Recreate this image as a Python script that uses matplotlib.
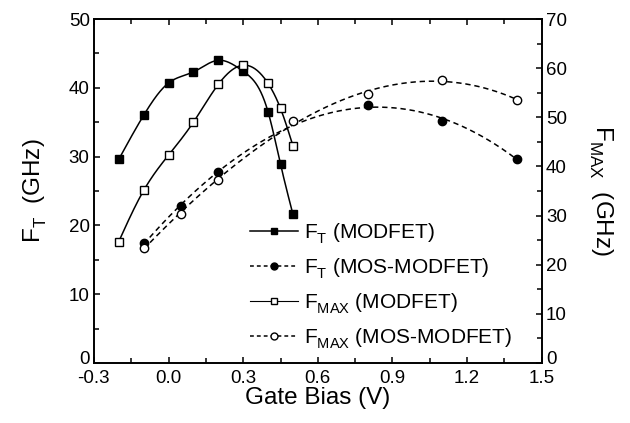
import numpy as np
import matplotlib
matplotlib.use("Agg")
import matplotlib.pyplot as plt
from matplotlib.lines import Line2D
from matplotlib.ticker import MultipleLocator, FixedLocator, FuncFormatter
from matplotlib.transforms import ScaledTranslation
import matplotlib._mathtext as _mt

plt.rcParams['font.family'] = ['Liberation Sans', 'DejaVu Sans']
plt.rcParams['mathtext.fontset'] = 'custom'
plt.rcParams['mathtext.rm'] = 'Liberation Sans'
plt.rcParams['mathtext.it'] = 'Liberation Sans'
# deeper subscripts, like the reference
_mt.FontConstantsBase.sub1 = 0.5
_mt.FontConstantsBase.sub2 = 0.6

# Data
vg_mod = [-0.2, -0.1, 0.0, 0.1, 0.2, 0.3, 0.4, 0.45, 0.5]
ft_mod = [29.6, 36.0, 40.7, 42.3, 44.0, 42.4, 36.5, 28.9, 21.6]
fmax_mod = [24.7, 35.1, 42.3, 49.0, 56.7, 60.6, 56.9, 51.8, 44.2]

vg_mos_ft = [-0.1, 0.05, 0.2, 0.8, 1.1, 1.4]
ft_mos = [17.4, 22.8, 27.8, 37.5, 35.2, 29.7]
vg_mos_fmax = [-0.1, 0.05, 0.2, 0.5, 0.8, 1.1, 1.4]
fmax_mos = [23.4, 30.4, 37.2, 49.3, 54.7, 57.5, 53.6]

x_ticks = [-0.3, 0.0, 0.3, 0.6, 0.9, 1.2, 1.5]
ft_ticks = [0, 10, 20, 30, 40, 50]
fmax_ticks = [0, 10, 20, 30, 40, 50, 60, 70]

labels = ["F$_{\\mathrm{T}}$ (MODFET)", "F$_{\\mathrm{T}}$ (MOS-MODFET)",
          "F$_{\\mathrm{MAX}}$ (MODFET)", "F$_{\\mathrm{MAX}}$ (MOS-MODFET)"]


def natural_spline(x, y, xs):
    x = np.asarray(x, float); y = np.asarray(y, float)
    n = len(x); h = np.diff(x)
    A = np.zeros((n, n)); b = np.zeros(n)
    A[0, 0] = 1; A[-1, -1] = 1
    for i in range(1, n - 1):
        A[i, i - 1] = h[i - 1]; A[i, i] = 2 * (h[i - 1] + h[i]); A[i, i + 1] = h[i]
        b[i] = 6 * ((y[i + 1] - y[i]) / h[i] - (y[i] - y[i - 1]) / h[i - 1])
    M = np.linalg.solve(A, b)
    out = np.empty_like(xs)
    for k, xv in enumerate(xs):
        i = min(max(np.searchsorted(x, xv) - 1, 0), n - 2)
        t1 = x[i + 1] - xv; t0 = xv - x[i]
        out[k] = (M[i] * t1**3 + M[i + 1] * t0**3) / (6 * h[i]) + \
                 (y[i] / h[i] - M[i] * h[i] / 6) * t1 + (y[i + 1] / h[i] - M[i + 1] * h[i] / 6) * t0
    return out


fig = plt.figure(figsize=(6.3, 4.23), dpi=100)
ax = fig.add_axes([0.149, 0.142, 0.711, 0.813])
ax2 = ax.twinx()

lw = 1.1
dash = (0, (3.5, 2.5))
# F_T MODFET
xs = np.linspace(vg_mod[0], vg_mod[-1], 300)
ax.plot(xs, natural_spline(vg_mod, ft_mod, xs), color='black', lw=lw)
ax.plot(vg_mod, ft_mod, 's', color='black', ms=6)
# F_T MOS-MODFET
xs2 = np.linspace(vg_mos_ft[0], vg_mos_ft[-1], 300)
p = np.polyfit(vg_mos_ft, ft_mos, 3)
ax.plot(xs2, np.polyval(p, xs2), color='black', lw=lw, ls=dash)
ax.plot(vg_mos_ft, ft_mos, 'o', color='black', ms=6)
# F_MAX MODFET
ax2.plot(xs, natural_spline(vg_mod, fmax_mod, xs), color='black', lw=lw)
ax2.plot(vg_mod, fmax_mod, 's', mfc='white', mec='black', mew=1.0, ms=6)
# F_MAX MOS-MODFET
xs3 = np.linspace(vg_mos_fmax[0], vg_mos_fmax[-1], 300)
p2 = np.polyfit(vg_mos_fmax, fmax_mos, 3)
ax2.plot(xs3, np.polyval(p2, xs3), color='black', lw=lw, ls=dash)
ax2.plot(vg_mos_fmax, fmax_mos, 'o', mfc='white', mec='black', mew=1.0, ms=6)

ax.set_xlim(-0.3, 1.5)
ax.set_ylim(0, 50)
ax2.set_ylim(0, 70)
ax.xaxis.set_major_locator(FixedLocator(x_ticks))
ax.xaxis.set_minor_locator(MultipleLocator(0.15))
ax.yaxis.set_major_locator(FixedLocator(ft_ticks))
ax.yaxis.set_minor_locator(MultipleLocator(5))
ax2.yaxis.set_major_locator(FixedLocator(fmax_ticks))
ax2.yaxis.set_minor_locator(MultipleLocator(5))
ax.xaxis.set_major_formatter(FuncFormatter(lambda v, _: f"{v:.1f}"))

for a in (ax, ax2):
    for s in a.spines.values():
        s.set_linewidth(1.2)
ax.tick_params(which='both', direction='in', top=True, right=False, labelsize=13.5, width=1.1, pad=3)
ax.tick_params(axis='x', which='both', pad=5)
ax.tick_params(which='major', length=4)
ax.tick_params(which='minor', length=3.5)
ax2.tick_params(which='both', direction='in', labelsize=13.5, width=1.1, pad=3)
ax2.tick_params(which='major', length=4)
ax2.tick_params(which='minor', length=3.5)

ax.set_xlabel("Gate Bias (V)", fontsize=17.5, labelpad=0)
ax.set_ylabel("F$_{\\mathrm{T}}$  (GHz)", fontsize=17.5, labelpad=14)
ax2.set_ylabel("F$_{\\mathrm{MAX}}$  (GHz)", fontsize=17.5, rotation=270, labelpad=34)

handles = [
    Line2D([], [], color='black', lw=1.1, marker='s', ms=5),
    Line2D([], [], color='black', lw=1.1, ls=(0, (2.5, 2)), marker='o', ms=5),
    Line2D([], [], color='black', lw=0.8, marker='s', ms=5, mfc='white', mec='black'),
    Line2D([], [], color='black', lw=1.1, ls=(0, (2.5, 2)), marker='o', ms=5, mfc='white', mec='black'),
]
ax.legend(handles, labels, loc='upper left', bbox_to_anchor=(0.33, 0.435), frameon=False,
          fontsize=15, handlelength=2.3, handletextpad=0.3, labelspacing=0.5, borderaxespad=0)

# lift the "0" labels slightly, as in the reference
up = ScaledTranslation(0, 4 / 72, fig.dpi_scale_trans)
t0 = ax.yaxis.get_major_ticks()[0]
t0.label1.set_transform(t0.label1.get_transform() + up)
t1 = ax2.yaxis.get_major_ticks()[0]
t1.label2.set_transform(t1.label2.get_transform() + up)

fig.savefig("out.png", dpi=100)
